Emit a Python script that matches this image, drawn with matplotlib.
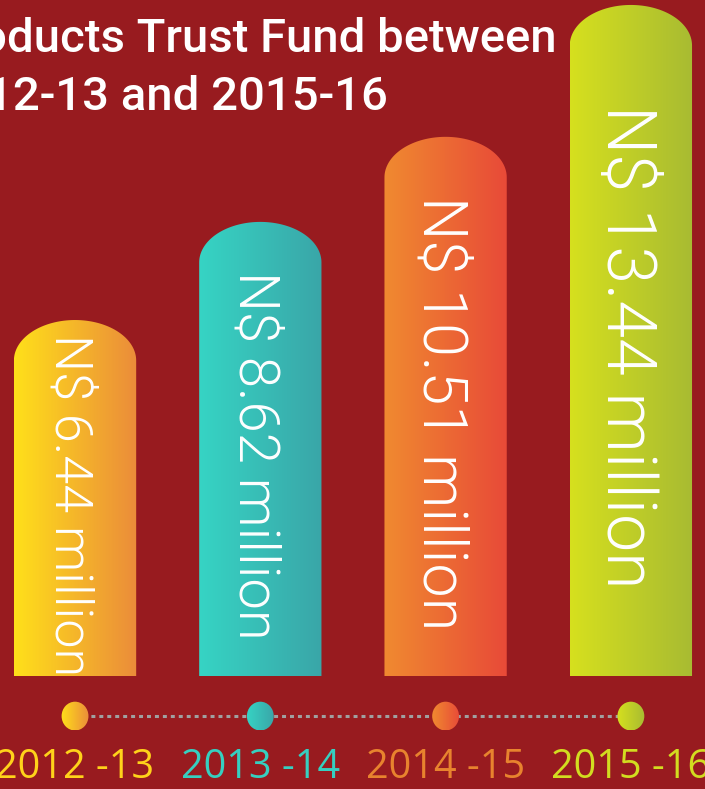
import numpy as np
import matplotlib.pyplot as plt
from matplotlib.colors import LinearSegmentedColormap
from matplotlib.patches import Polygon, Ellipse

# data
years = ["2012 -13", "2013 -14", "2014 -15", "2015 -16"]
values = [6.44, 8.62, 10.51, 13.44]
bar_labels = ["N$ 6.44 million", "N$ 8.62 million", "N$ 10.51 million", "N$ 13.44 million"]
title_lines = ["oducts Trust Fund between", "12-13 and 2015-16"]

# style
bg = "#981b1f"
grad_left = ["#ffe01a", "#36d4c4", "#f08a30", "#d6e01e"]
grad_right = ["#eb8c3a", "#3aa6a8", "#e84a38", "#a8bb32"]
year_colors = ["#ffd21a", "#36cfc0", "#e8832e", "#d2dc20"]
text_sizes = [37.5, 40.5, 44, 49]

fig = plt.figure(figsize=(7.05, 7.89), dpi=100)
fig.patch.set_facecolor(bg)
ax = fig.add_axes([0, 0, 1, 1])
ax.set_facecolor(bg)

base = -1.47
width = 0.66
cap = 0.9
x = np.arange(len(values))
grad = np.linspace(0, 1, 256).reshape(1, -1)

for i, v in enumerate(values):
    left, right = x[i] - width / 2, x[i] + width / 2
    t = np.linspace(0, np.pi, 80)
    arc_x = x[i] + width / 2 * np.cos(t)
    arc_y = v - cap + cap * np.sin(t)
    pts = np.column_stack([np.r_[right, arc_x, left], np.r_[base, arc_y, base]])
    shape = Polygon(pts, closed=True, facecolor="none", edgecolor="none")
    ax.add_patch(shape)
    cmap = LinearSegmentedColormap.from_list(f"g{i}", [grad_left[i], grad_right[i]])
    im = ax.imshow(grad, cmap=cmap, extent=[left, right, base, v], aspect="auto", zorder=2)
    im.set_clip_path(shape)
    ax.text(x[i] - 0.03, (v + base) / 2 - 0.15, bar_labels[i], rotation=270, ha="center", va="center",
            color="white", fontsize=text_sizes[i], family="Roboto", fontweight=300, zorder=3)

# timeline
dot_y = -2.36
ax.plot(x, [dot_y] * len(x), color="#a0a0a0", lw=2.2, linestyle=(0, (1.3, 1.3)), zorder=1)
for i in x:
    dot = Ellipse((i, dot_y), 0.145, 0.64, facecolor="none", edgecolor="none")
    ax.add_patch(dot)
    cmap = LinearSegmentedColormap.from_list(f"d{i}", [grad_left[i], grad_right[i]])
    im = ax.imshow(grad, cmap=cmap, extent=[i - 0.075, i + 0.075, dot_y - 0.32, dot_y + 0.32],
                   aspect="auto", zorder=2)
    im.set_clip_path(dot)
    ax.text(i, -3.74, years[i], ha="center", va="baseline", color=year_colors[i],
            fontsize=28.5, family="Open Sans")

# title (cropped on the left in the original)
fig.text(557 / 705, 1 - 52 / 789, title_lines[0], ha="right", va="baseline", color="white",
         fontsize=34, family="Roboto", fontweight="medium")
fig.text(388 / 705, 1 - 110 / 789, title_lines[1], ha="right", va="baseline", color="white",
         fontsize=34, family="Roboto", fontweight="medium")

ax.set_xlim(-0.405, 3.40)
ax.set_ylim(-3.98, 13.55)
ax.axis("off")

fig.savefig("out.png", dpi=100, facecolor=bg)
